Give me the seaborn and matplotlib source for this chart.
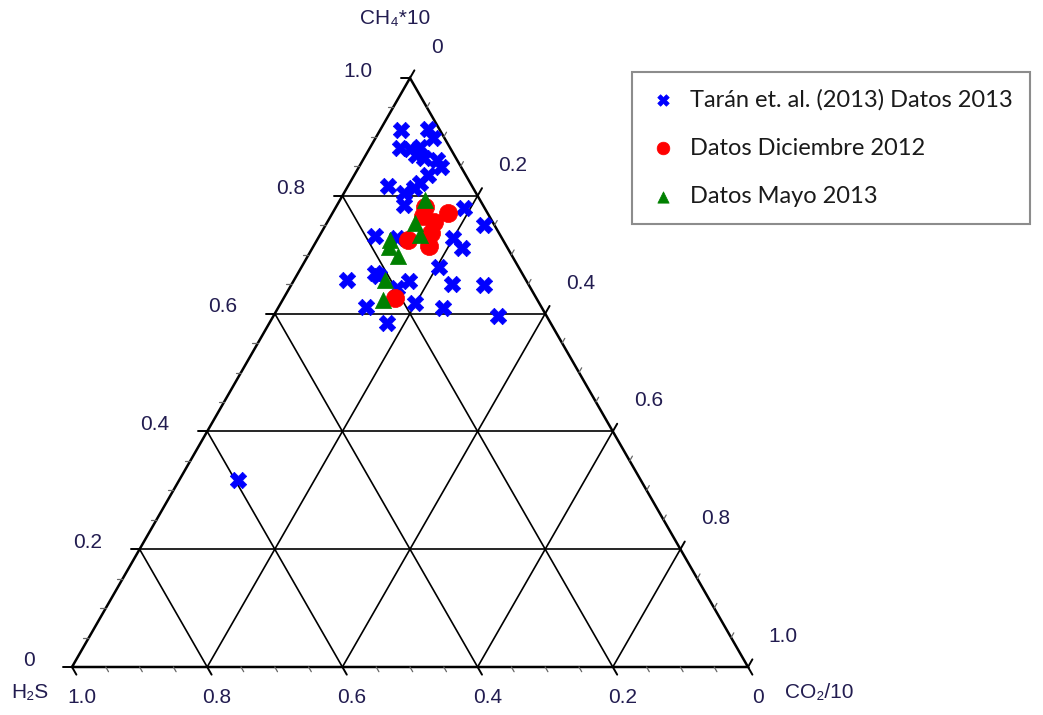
import numpy as np
import pandas as pd
import matplotlib
matplotlib.use("Agg")
import matplotlib.pyplot as plt
import seaborn as sns

# Composiciones en fracción: CH4*10, CO2/10, H2S
taran_ch4 = [0.912, 0.913, 0.898, 0.881, 0.879, 0.883, 0.869, 0.864, 0.861, 0.849,
             0.835, 0.822, 0.817, 0.805, 0.813, 0.784, 0.779, 0.750, 0.732, 0.728,
             0.728, 0.711, 0.679, 0.657, 0.669, 0.664, 0.655, 0.650, 0.649, 0.643,
             0.611, 0.618, 0.610, 0.596, 0.584, 0.317]
taran_co2 = [0.031, 0.070, 0.085, 0.044, 0.061, 0.074, 0.075, 0.089, 0.110, 0.122,
             0.109, 0.104, 0.059, 0.088, 0.100, 0.099, 0.191, 0.234, 0.082, 0.117,
             0.200, 0.221, 0.203, 0.078, 0.113, 0.122, 0.171, 0.237, 0.285, 0.160,
             0.130, 0.198, 0.244, 0.332, 0.174, 0.087]
taran_h2s = [0.057, 0.017, 0.017, 0.075, 0.060, 0.043, 0.056, 0.047, 0.029, 0.029,
             0.056, 0.074, 0.124, 0.107, 0.087, 0.117, 0.030, 0.016, 0.186, 0.155,
             0.072, 0.068, 0.118, 0.265, 0.218, 0.214, 0.174, 0.113, 0.066, 0.197,
             0.259, 0.184, 0.146, 0.072, 0.242, 0.596]

dic_ch4 = [0.781, 0.766, 0.771, 0.756, 0.737, 0.725, 0.715, 0.626]
dic_co2 = [0.132, 0.136, 0.170, 0.158, 0.163, 0.135, 0.171, 0.165]
dic_h2s = [0.087, 0.098, 0.059, 0.086, 0.100, 0.140, 0.114, 0.209]

mayo_ch4 = [0.793, 0.754, 0.733, 0.725, 0.713, 0.698, 0.657, 0.623]
mayo_co2 = [0.126, 0.130, 0.148, 0.108, 0.113, 0.133, 0.134, 0.148]
mayo_h2s = [0.081, 0.116, 0.119, 0.167, 0.174, 0.169, 0.209, 0.229]

grupos = ["Tarán et. al. (2013) Datos 2013", "Datos Diciembre 2012", "Datos Mayo 2013"]
major_ticks = [0.0, 0.2, 0.4, 0.6, 0.8, 1.0]
tick_labels = ["0", "0.2", "0.4", "0.6", "0.8", "1.0"]

SQ3 = np.sqrt(3) / 2


def to_xy(ch4, co2, h2s):
    ch4, co2, h2s = map(np.asarray, (ch4, co2, h2s))
    tot = ch4 + co2 + h2s
    c, r = ch4 / tot, co2 / tot
    return r + c / 2, c * SQ3


frames = []
for g, (c, r, h) in zip(grupos, [(taran_ch4, taran_co2, taran_h2s),
                                 (dic_ch4, dic_co2, dic_h2s),
                                 (mayo_ch4, mayo_co2, mayo_h2s)]):
    x, y = to_xy(c, r, h)
    frames.append(pd.DataFrame({"x": x, "y": y, "grupo": g}))
df = pd.concat(frames, ignore_index=True)

sns.set_theme(style="white")
plt.rcParams["font.family"] = ["Liberation Sans", "DejaVu Sans"]

W, H = 1043, 715
fig = plt.figure(figsize=(W / 100, H / 100), dpi=100)
ax = fig.add_axes([0, 0, 1, 1])
# Triángulo: vértices en x=0..1, y=0..sqrt(3)/2
x0, x1 = 72, 748
ytop, ybot = 78, 667
sx = x1 - x0
sy = (ybot - ytop) / SQ3
ax.set_xlim(-x0 / sx, (W - x0) / sx)
ax.set_ylim(-(H - ybot) / sy, ybot / sy)
ax.set_axis_off()

# Rejilla interior
for t in [0.2, 0.4, 0.6, 0.8]:
    # CH4 constante (horizontal)
    ax.plot([t / 2, 1 - t / 2], [t * SQ3, t * SQ3], color="black", lw=1.2, zorder=1)
    # CO2 constante (paralela al lado izquierdo)
    ax.plot([t, t + (1 - t) / 2], [0, (1 - t) * SQ3], color="black", lw=1.2, zorder=1)
    # H2S constante (paralela al lado derecho)
    ax.plot([1 - t, (1 - t) / 2], [0, (1 - t) * SQ3], color="black", lw=1.2, zorder=1)

# Contorno
ax.plot([0, 1, 0.5, 0], [0, 0, SQ3, 0], color="black", lw=1.8, zorder=2,
        solid_joinstyle="miter")

# Marcas de escala
maj_len, min_len = 0.013, 0.008
d_left = np.array([-1.0, 0.0])
d_right = np.array([0.5, SQ3])
d_bottom = np.array([0.5, -SQ3])
for k in range(21):
    t = k * 0.05
    major = k % 4 == 0
    L = maj_len if major else min_len
    col = "black" if major else "#666666"
    lw = 1.4 if major else 0.9
    # lado izquierdo: CH4 = t
    p = np.array([t / 2, t * SQ3])
    ax.plot([p[0], p[0] + L * d_left[0]], [p[1], p[1] + L * d_left[1]], color=col, lw=lw)
    # lado derecho: CO2 = t
    p = np.array([0.5 + t / 2, (1 - t) * SQ3])
    ax.plot([p[0], p[0] + L * d_right[0]], [p[1], p[1] + L * d_right[1]], color=col, lw=lw)
    # base: H2S = t
    p = np.array([1 - t, 0.0])
    ax.plot([p[0], p[0] + L * d_bottom[0]], [p[1], p[1] + L * d_bottom[1]], color=col, lw=lw)

lab_kw = dict(fontsize=15, color="#221c50", textcoords="offset points")
for t, lab in zip(major_ticks, tick_labels):
    ax.annotate(lab, (t / 2, t * SQ3), xytext=(-27, 5), ha="right", va="center", **lab_kw)
    ax.annotate(lab, (0.5 + t / 2, (1 - t) * SQ3), xytext=(15, 22), ha="left",
                va="center", **lab_kw)
    ax.annotate(lab, (1 - t, 0), xytext=(7, -22), ha="center", va="center", **lab_kw)

# Títulos de los vértices
tt_kw = dict(fontsize=15, color="#221c50", va="center")
fig.text(395 / W, 1 - 18 / H, "CH₄*10", ha="center", **tt_kw)
fig.text(30 / W, 1 - 693 / H, "H₂S", ha="center", **tt_kw)
fig.text(785 / W, 1 - 693 / H, "CO₂/10", ha="left", **tt_kw)

# Puntos
estilos = {
    grupos[0]: dict(color="#0000ff", marker="X", s=140),
    grupos[1]: dict(color="#ff0000", marker="o", s=170),
    grupos[2]: dict(color="#008000", marker="^", s=135),
}
for i, g in enumerate(grupos):
    st = estilos[g]
    sns.scatterplot(data=df[df["grupo"] == g], x="x", y="y", ax=ax, label=g,
                    color=st["color"], marker=st["marker"], s=st["s"],
                    edgecolor=st["color"], linewidth=0.5, zorder=3 + i)

leg = ax.legend(loc="upper left", bbox_to_anchor=(632 / W, 1 - 72 / H),
                bbox_transform=fig.transFigure, frameon=True, fancybox=False,
                prop={"family": "Lato", "size": 17}, labelspacing=1.15,
                borderpad=0.72, handlelength=1.15, handletextpad=0.6,
                markerscale=0.7, borderaxespad=0)
leg.get_frame().set_edgecolor("#707070")
leg.get_frame().set_linewidth(1.5)
for txt in leg.get_texts():
    txt.set_color("#1a1a1a")

fig.savefig("out.png", dpi=100, facecolor="white")
